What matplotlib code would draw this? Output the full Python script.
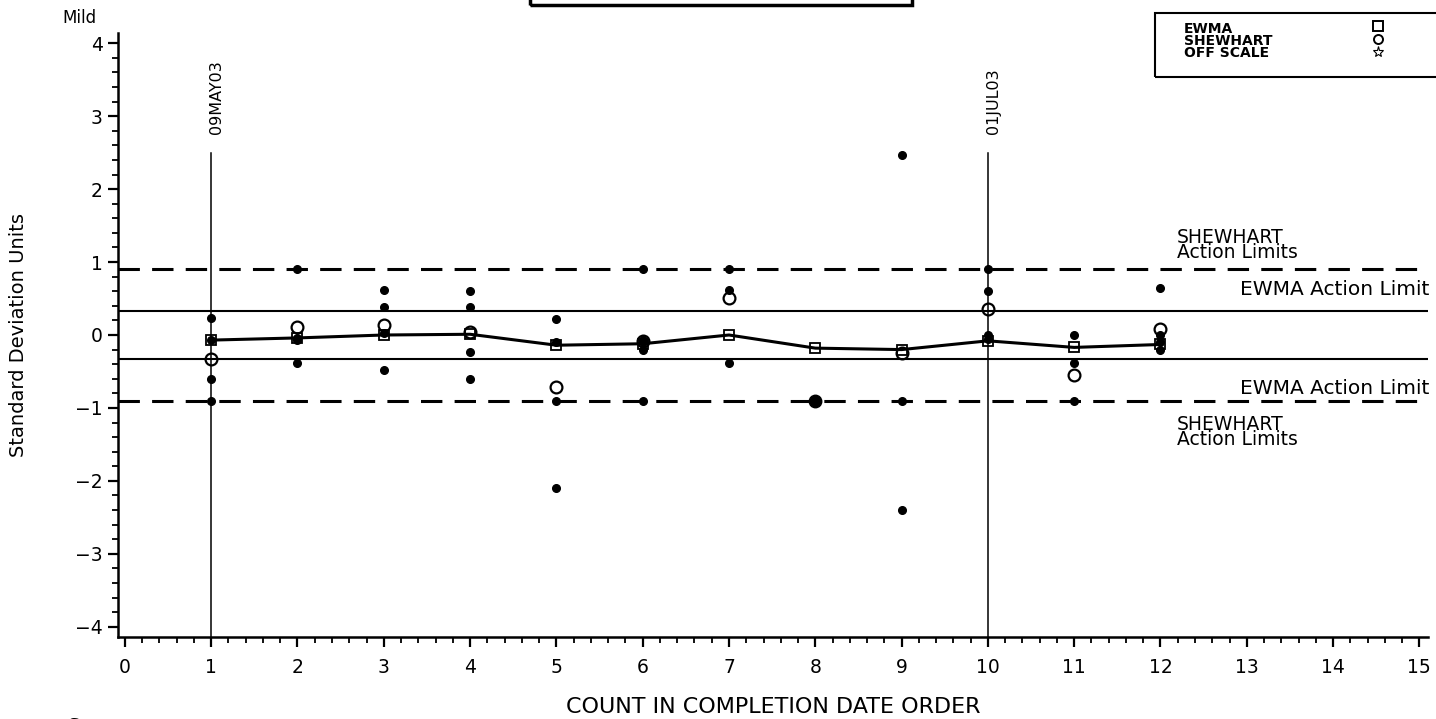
import matplotlib.pyplot as plt
import numpy as np
from matplotlib.patches import Rectangle
from matplotlib.ticker import MultipleLocator

counts = [1, 2, 3, 4, 5, 6, 7, 8, 9, 10, 11, 12]
ewma = [-0.07, -0.04, 0.0, 0.01, -0.14, -0.12, 0.0, -0.18, -0.20, -0.08, -0.17, -0.13]
shewhart = [-0.33, 0.11, 0.14, 0.04, -0.71, -0.08, 0.51, np.nan, -0.25, 0.35, -0.55, 0.08]

# individual results, one list per count
obs = {
    1: [0.23, -0.07, -0.60, -0.90],
    2: [0.90, -0.04, -0.07, -0.39],
    3: [0.62, 0.39, 0.03, -0.48],
    4: [0.61, 0.39, -0.23, -0.60],
    5: [0.22, -0.10, -0.90, -2.10],
    6: [0.90, -0.07, -0.10, -0.20, -0.90],
    7: [0.90, 0.62, -0.39],
    9: [2.47, -0.90, -2.40],
    10: [0.90, 0.60, 0.00, -0.05],
    11: [0.00, -0.39, -0.90],
    12: [0.64, 0.00, -0.10, -0.20],
}
stacked_x = [8]
stacked_y = [-0.90]

shewhart_limit = 0.9
ewma_limit = 0.33
date_counts = [1, 10]
date_labels = ["09MAY03", "01JUL03"]
legend_labels = ["EWMA", "SHEWHART", "OFF SCALE"]

W, H = 1436, 719
fig = plt.figure(figsize=(W / 100, H / 100), dpi=100)
ax = fig.add_axes([118 / W, 1 - 637 / H, (1428 - 118) / W, (637 - 33) / H])

narrow = ["Liberation Sans Narrow", "DejaVu Sans"]

# limits
for s in (1, -1):
    ax.axhline(s * shewhart_limit, color="black", lw=2.2, dashes=(7, 4))
    ax.axhline(s * ewma_limit, color="black", lw=1.5)

# date reference lines
for xc, lab in zip(date_counts, date_labels):
    ax.plot([xc, xc], [2.5, -4.2], color="black", lw=1.1)
    ax.text(xc + 0.06, 2.75, lab, rotation=90, ha="center", va="bottom",
            fontsize=11.5, family=narrow)

ox = [k for k, v in obs.items() for _ in v]
oy = [y for v in obs.values() for y in v]
ax.plot(ox, oy, ls="none", marker="o", ms=5.5, color="black")
ax.plot(stacked_x, stacked_y, ls="none", marker="o", ms=9, color="black")
ax.plot(counts, shewhart, ls="none", marker="o", ms=8.5, mfc="none",
        mec="black", mew=1.6)
ax.plot(counts, ewma, color="black", lw=2.2, marker="s", ms=7,
        mfc="none", mec="black", mew=1.3)

ax.set_xlim(-0.08, 15.1)
ax.set_ylim(-4.14, 4.14)
ax.xaxis.set_major_locator(MultipleLocator(1))
ax.xaxis.set_minor_locator(MultipleLocator(0.2))
ax.yaxis.set_major_locator(MultipleLocator(1))
ax.yaxis.set_minor_locator(MultipleLocator(0.2))
ax.tick_params(which="major", length=7, width=1.6, labelsize=13.5)
ax.tick_params(axis="x", which="major", pad=8)
ax.tick_params(axis="y", which="major", pad=4)
ax.tick_params(which="minor", length=4, width=1.3)
ax.yaxis.set_major_formatter(plt.FuncFormatter(
    lambda v, p: f"{v:.0f}".replace("-", "\u2212")))
for side in ("top", "right"):
    ax.spines[side].set_visible(False)
for side in ("left", "bottom"):
    ax.spines[side].set_linewidth(1.8)

ax.set_ylabel("Standard Deviation Units", fontsize=14, family=narrow)
ax.yaxis.set_label_coords(-0.069, 0.5)
ax.set_xlabel("COUNT IN COMPLETION DATE ORDER", fontsize=16)
ax.xaxis.set_label_coords(0.5, -0.099)

# limit labels on the right
ax.text(12.19, 1.23, "SHEWHART\nAction Limits", fontsize=13.5, va="center",
        linespacing=0.75)
ax.text(15.12, 0.62, "EWMA Action Limit", fontsize=14.5, ha="right", va="center")
ax.text(15.12, -0.74, "EWMA Action Limit", fontsize=14.5, ha="right", va="center")
ax.text(12.19, -1.33, "SHEWHART\nAction Limits", fontsize=13.5, va="center",
        linespacing=0.75)

# title box (cut off at top) and "Mild"
fig.patches.append(Rectangle((530 / W, 1 - 5 / H), (912 - 530) / W, 0.1,
                             transform=fig.transFigure, fill=False, lw=2.5,
                             ec="black"))
fig.text(62 / W, 1 - 18 / H, "Mild", fontsize=12, va="center")
fig.text(68 / W, 1 - 726 / H, "S", fontsize=14, va="center")

# legend box, top right
fig.patches.append(Rectangle((1155 / W, 1 - 77 / H), 300 / W, 64 / H,
                             transform=fig.transFigure, fill=False, lw=1.5,
                             ec="black"))
for i, lab in enumerate(legend_labels):
    fig.text(1184 / W, 1 - (29 + 12 * i) / H, lab, fontsize=10,
             fontweight="bold", va="center")
lax = fig.add_axes([1360 / W, 1 - 65 / H, 36 / W, 52 / H])
lax.set_xlim(0, 1)
lax.set_ylim(0, 4)
lax.axis("off")
lax.plot([0.5], [3], marker="s", ms=6.5, mfc="none", mec="black", mew=1.4)
lax.plot([0.5], [2], marker="o", ms=6.5, mfc="none", mec="black", mew=1.4)
lax.plot([0.5], [1], marker="*", ms=8, mfc="none", mec="black", mew=0.8)

fig.savefig("out.png", dpi=100)
